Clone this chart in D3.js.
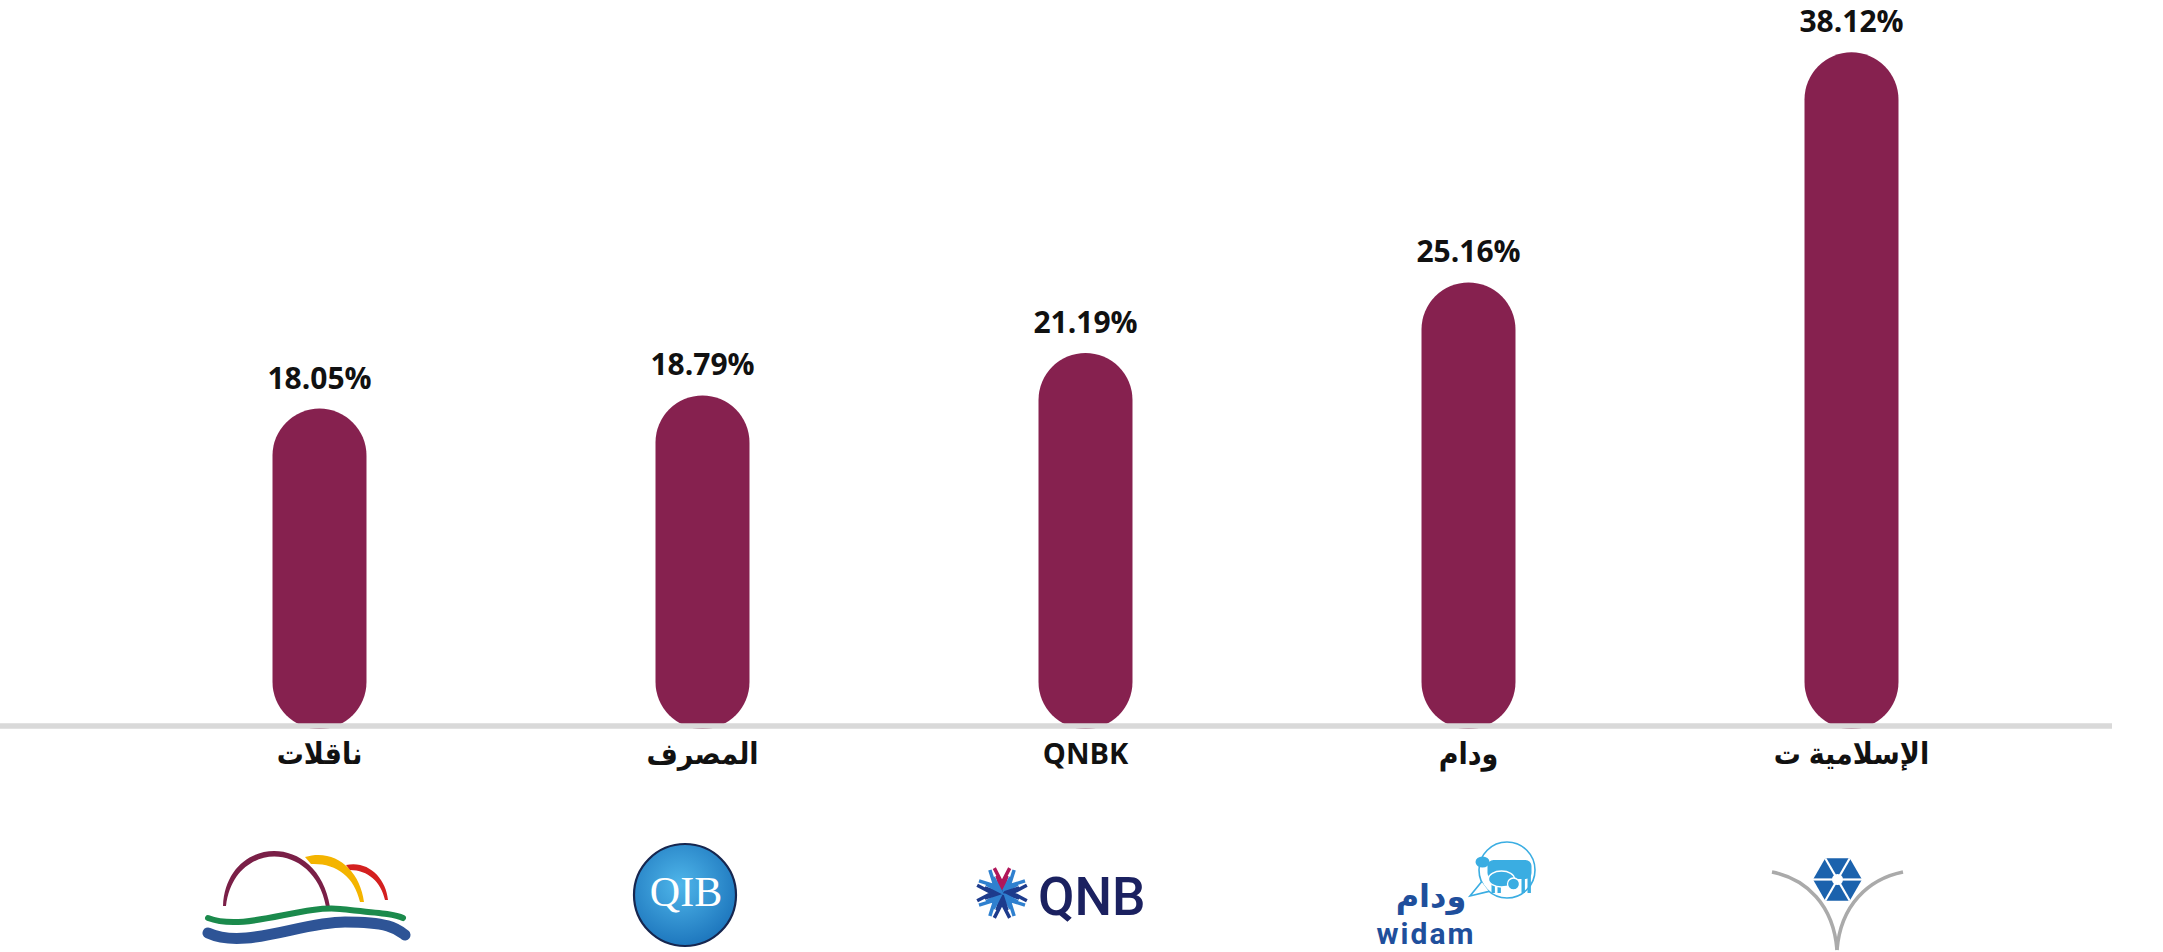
<!DOCTYPE html>
<html>
<head>
<meta charset="utf-8">
<script src="https://cdn.jsdelivr.net/npm/d3@7"></script>
<style>
  body { margin: 0; background: #fff; }
  svg { display: block; }
</style>
</head>
<body>
<div id="chart"></div>
<script>
// data
var categories = ["ناقلات", "المصرف", "QNBK", "ودام", "الإسلامية ت"];
var values = [18.05, 18.79, 21.19, 25.16, 38.12];
var logos = ["nakilat", "qib", "qnb", "widam", "insurance"];

var width = 2163,
    height = 952;

var barColor = "#86214f";

var svg = d3.select("#chart").append("svg")
    .attr("width", width)
    .attr("height", height);

var x = d3.scaleBand()
    .domain(categories)
    .range([128, 2043])
    .paddingInner(0.7546)
    .paddingOuter(0.3773);

var y = d3.scaleLinear()
    .domain([0, 40])
    .range([729, 19]);

// bars (pill shaped)
svg.append("g")
    .selectAll("rect")
    .data(values)
    .enter().append("rect")
    .attr("x", function(d, i) { return x(categories[i]); })
    .attr("y", function(d) { return y(d); })
    .attr("width", x.bandwidth())
    .attr("height", function(d) { return y(0) - y(d); })
    .attr("rx", x.bandwidth() / 2)
    .attr("ry", x.bandwidth() / 2)
    .attr("fill", barColor);

// baseline
svg.append("line")
    .attr("x1", 0)
    .attr("x2", 2112)
    .attr("y1", y(0) - 3)
    .attr("y2", y(0) - 3)
    .attr("stroke", "#d9d9d9")
    .attr("stroke-width", 5.5);

// value labels
svg.append("g")
    .selectAll("text")
    .data(values)
    .enter().append("text")
    .attr("x", function(d, i) { return x(categories[i]) + x.bandwidth() / 2; })
    .attr("y", function(d) { return y(d) - 20; })
    .attr("text-anchor", "middle")
    .style("font-family", "'Open Sans', sans-serif")
    .style("font-weight", "bold")
    .style("font-size", "30px")
    .attr("fill", "#111")
    .text(function(d) { return d.toFixed(2) + "%"; });

// category labels
var xAxis = svg.append("g")
    .attr("transform", "translate(0," + (y(0) - 2) + ")")
    .call(d3.axisBottom(x).tickSize(0));
xAxis.select(".domain").remove();
xAxis.selectAll("text")
    .attr("y", 37)
    .attr("dy", 0)
    .attr("fill", "#111")
    .style("font-family", "'Open Sans', 'DejaVu Sans Condensed', 'DejaVu Sans', sans-serif")
    .style("font-weight", "bold")
    .style("font-size", function(d) { return /[A-Z]/.test(d) ? "29px" : "30px"; });

// logos, drawn around each band centre
var logoG = svg.append("g")
    .selectAll("g")
    .data(logos)
    .enter().append("g")
    .attr("transform", function(d, i) {
        return "translate(" + (x(categories[i]) + x.bandwidth() / 2) + ",0)";
    });

logoG.each(function(d) {
    var g = d3.select(this);
    if (d == "nakilat") drawNakilat(g);
    if (d == "qib") drawQib(g);
    if (d == "qnb") drawQnb(g);
    if (d == "widam") drawWidam(g);
    if (d == "insurance") drawInsurance(g);
});

function drawNakilat(g) {
    g.append("path")
        .attr("d", "M-96.5,906 C-93.5,835 -1.5,830 10.5,907 L6.5,907 C-5.5,840 -85.5,840 -93.5,906 Z")
        .attr("fill", "#7a1f47");
    g.append("path")
        .attr("d", "M-14.5,857 C15.5,848 40.5,870 44.5,902 L40.5,902 C34.5,876 16.5,863 -8.5,864 Z")
        .attr("fill", "#f4b400");
    g.append("path")
        .attr("d", "M26.5,865 C48.5,860 66.5,878 68.5,900 L65.5,900 C61.5,882 48.5,870 30.5,870 Z")
        .attr("fill", "#d4201f");
    g.append("path")
        .attr("d", "M-111.5,918 C-74.5,932 -19.5,905 20.5,909 S75.5,914 83.5,918")
        .attr("fill", "none")
        .attr("stroke", "#1b8a4c")
        .attr("stroke-width", 6)
        .attr("stroke-linecap", "round");
    g.append("path")
        .attr("d", "M-111.5,933 C-74.5,950 -19.5,922 25.5,922 S77.5,929 85.5,935")
        .attr("fill", "none")
        .attr("stroke", "#2e5496")
        .attr("stroke-width", 11)
        .attr("stroke-linecap", "round");
}

function drawQib(g) {
    var grad = svg.append("defs").append("radialGradient")
        .attr("id", "qibGrad")
        .attr("cx", "45%").attr("cy", "40%").attr("r", "65%");
    grad.append("stop").attr("offset", "0%").attr("stop-color", "#4fb6ea");
    grad.append("stop").attr("offset", "100%").attr("stop-color", "#1a72ba");
    g.append("circle")
        .attr("cx", -17.5)
        .attr("cy", 895)
        .attr("r", 51)
        .attr("fill", "url(#qibGrad)")
        .attr("stroke", "#16264f")
        .attr("stroke-width", 2.2);
    g.append("text")
        .attr("x", -16.5)
        .attr("y", 906)
        .attr("text-anchor", "middle")
        .style("font-family", "'Liberation Serif', serif")
        .style("font-size", "42px")
        .attr("fill", "#fff")
        .text("QIB");
}

function drawQnb(g) {
    var cx = -83.5, cy = 893;
    for (var k = 0; k < 8; k++) {
        var a = -Math.PI / 2 + k * Math.PI / 4;
        var col = k == 0 ? "#b0175a" : (k % 2 ? "#2f80cf" : "#1d3b8c");
        [[26, 0.3], [18, 0.28]].forEach(function(s) {
            var pts = [
                [cx + s[0] * Math.cos(a - s[1]), cy + s[0] * Math.sin(a - s[1])],
                [cx + (s[0] - 16) * Math.cos(a), cy + (s[0] - 16) * Math.sin(a)],
                [cx + s[0] * Math.cos(a + s[1]), cy + s[0] * Math.sin(a + s[1])]
            ];
            g.append("path")
                .attr("d", d3.line()(pts))
                .attr("fill", "none")
                .attr("stroke", col)
                .attr("stroke-width", 3.5);
        });
    }
    g.append("text")
        .attr("x", -47.5)
        .attr("y", 915)
        .style("font-family", "Roboto, sans-serif")
        .style("font-weight", 500)
        .style("font-size", "53px")
        .attr("fill", "#1b2160")
        .text("QNB");
}

function drawWidam(g) {
    var blue = "#3aade2";
    g.append("circle")
        .attr("cx", 38.5).attr("cy", 870).attr("r", 28)
        .attr("fill", "#fff")
        .attr("stroke", blue)
        .attr("stroke-width", 1.6);
    g.append("path")
        .attr("d", "M13.1,881.8 L1.5,896 L20.5,891.4 Z")
        .attr("fill", "#fff");
    g.append("path")
        .attr("d", "M13.1,881.8 L1.5,896 L20.5,891.4")
        .attr("fill", "none")
        .attr("stroke", blue)
        .attr("stroke-width", 1.6);
    // cow, calf and hen
    g.append("rect")
        .attr("x", 19).attr("y", 860).attr("width", 44).attr("height", 19).attr("rx", 6)
        .attr("fill", blue);
    g.append("ellipse")
        .attr("cx", 14).attr("cy", 862).attr("rx", 7).attr("ry", 5.5)
        .attr("fill", blue);
    [23, 29, 53, 59].forEach(function(lx) {
        g.append("rect")
            .attr("x", lx).attr("y", 875).attr("width", 3.4).attr("height", 18)
            .attr("fill", blue);
    });
    g.append("ellipse")
        .attr("cx", 33).attr("cy", 879).attr("rx", 13).attr("ry", 8)
        .attr("fill", blue).attr("stroke", "#fff").attr("stroke-width", 1.3);
    g.append("circle")
        .attr("cx", 45).attr("cy", 884).attr("r", 6)
        .attr("fill", blue).attr("stroke", "#fff").attr("stroke-width", 1.3);
    g.append("text")
        .attr("x", -37.5)
        .attr("y", 907)
        .attr("text-anchor", "middle")
        .style("font-family", "'DejaVu Sans', sans-serif")
        .style("font-weight", "bold")
        .style("font-size", "32px")
        .attr("fill", "#1f4f9c")
        .text("ودام");
    g.append("text")
        .attr("x", -42.5)
        .attr("y", 944)
        .attr("text-anchor", "middle")
        .style("font-family", "Roboto, sans-serif")
        .style("font-weight", "bold")
        .style("font-size", "30px")
        .style("letter-spacing", "2px")
        .attr("fill", "#1f4f9c")
        .text("widam");
}

function drawInsurance(g) {
    var cx = -14, cy = 879.5, r = 24.5;
    g.append("path")
        .attr("d", "M-79.5,872 C-45,879 -18,905 -14.5,950")
        .attr("fill", "none")
        .attr("stroke", "#aaaaaa")
        .attr("stroke-width", 3.5);
    g.append("path")
        .attr("d", "M51.5,872 C17,879 -11,905 -14.5,950")
        .attr("fill", "none")
        .attr("stroke", "#aaaaaa")
        .attr("stroke-width", 3.5);
    var hex = d3.range(6).map(function(k) {
        var a = k * Math.PI / 3;
        return [cx + r * Math.cos(a), cy + r * Math.sin(a)];
    });
    g.append("path")
        .attr("d", d3.line()(hex) + "Z")
        .attr("fill", "#1b62ad");
    hex.forEach(function(p) {
        g.append("line")
            .attr("x1", cx).attr("y1", cy)
            .attr("x2", p[0]).attr("y2", p[1])
            .attr("stroke", "#fff")
            .attr("stroke-width", 2.2);
    });
    g.append("circle")
        .attr("cx", cx).attr("cy", cy).attr("r", 5.5)
        .attr("fill", "#fff");
}
</script>
</body>
</html>
